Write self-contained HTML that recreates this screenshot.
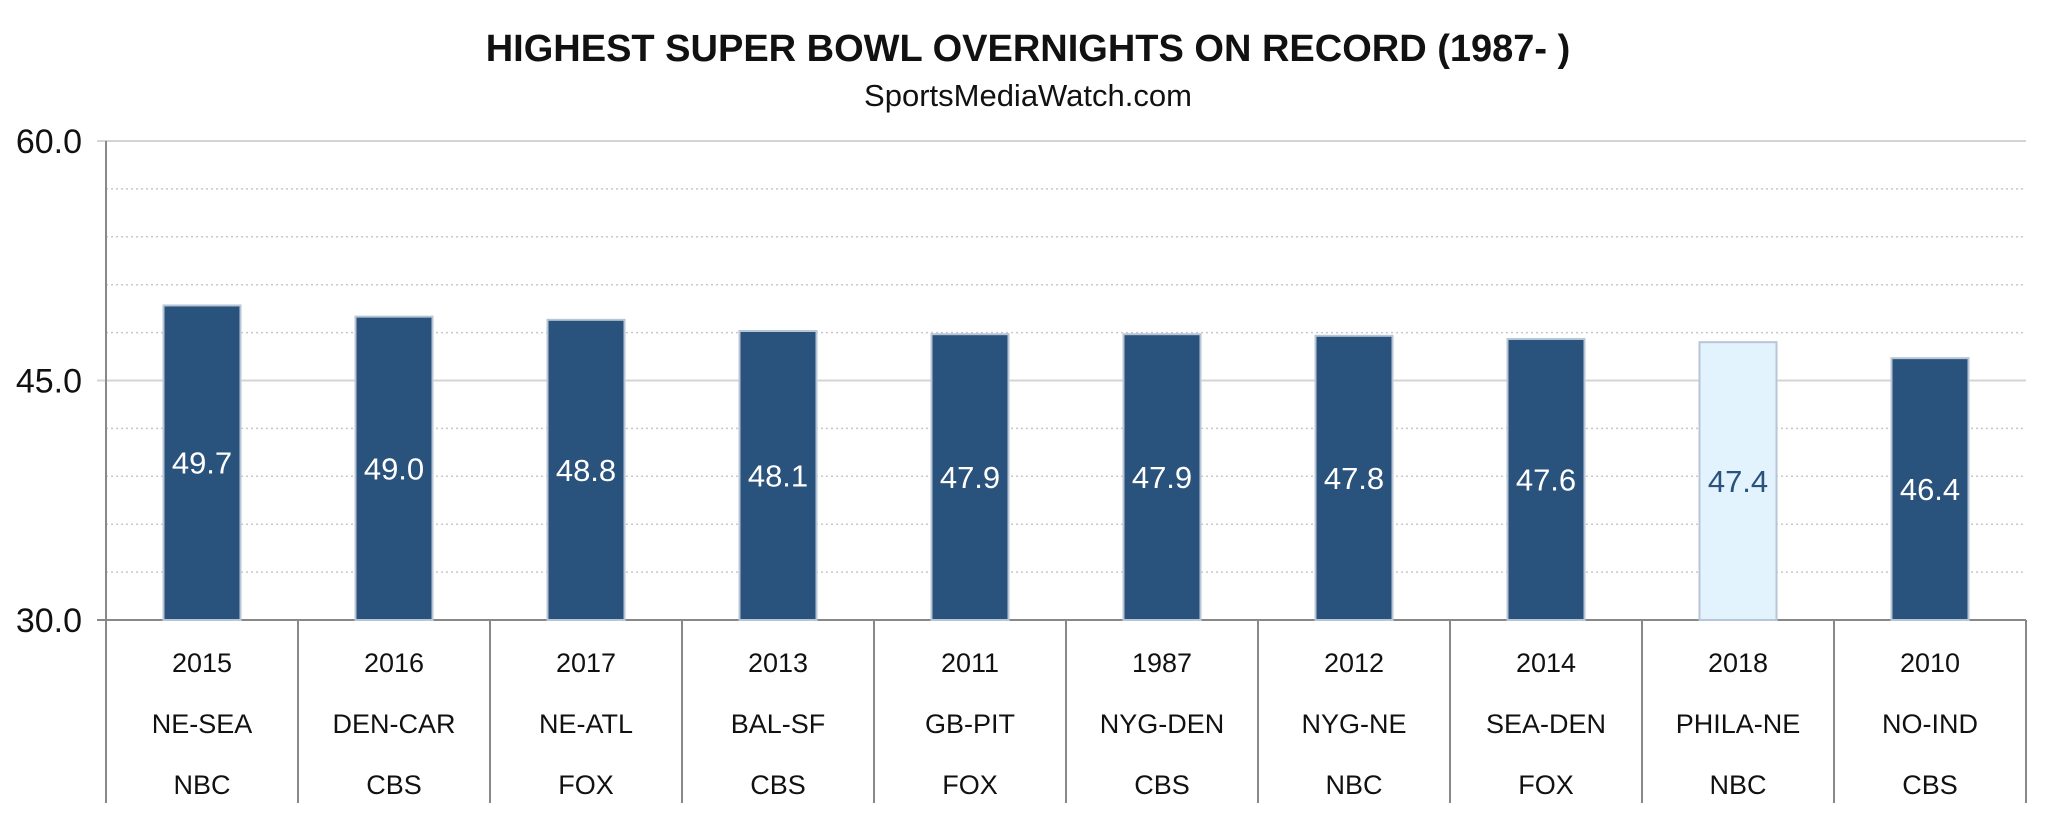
<!DOCTYPE html>
<html><head><meta charset="utf-8"><style>
body{margin:0;background:#fff;}
svg{display:block;font-family:"Liberation Sans",sans-serif;}
</style></head><body>
<svg id="chart" width="2048" height="814">
<text x="1028" y="61" text-anchor="middle" font-size="38" font-weight="bold" fill="#111">HIGHEST SUPER BOWL OVERNIGHTS ON RECORD (1987- )</text>
<text x="1028" y="106" text-anchor="middle" font-size="31" fill="#111">SportsMediaWatch.com</text>
<g id="grid"></g><g id="bars"></g><g id="axes"></g>
</svg>
<script>
const years=["2015","2016","2017","2013","2011","1987","2012","2014","2018","2010"];
const matchups=["NE-SEA","DEN-CAR","NE-ATL","BAL-SF","GB-PIT","NYG-DEN","NYG-NE","SEA-DEN","PHILA-NE","NO-IND"];
const networks=["NBC","CBS","FOX","CBS","FOX","CBS","NBC","FOX","NBC","CBS"];
const values=[49.7,49.0,48.8,48.1,47.9,47.9,47.8,47.6,47.4,46.4];
const highlight=[false,false,false,false,false,false,false,false,true,false];
const yTicks=[30,45,60];
const yMinor=[33,36,39,42,48,51,54,57];
const NS="http://www.w3.org/2000/svg";
const X0=106,X1=2026,Y0=620,Y1=141,yMin=30,yMax=60;
const bw=(X1-X0)/values.length;
function y(v){return Y0-(v-yMin)/(yMax-yMin)*(Y0-Y1);}
function xc(i){return X0+bw*(i+0.5);}
function mk(tag,attrs,parent){const e=document.createElementNS(NS,tag);for(const k in attrs)e.setAttribute(k,attrs[k]);parent.appendChild(e);return e;}
const grid=document.getElementById('grid'),bars=document.getElementById('bars'),axes=document.getElementById('axes');
yMinor.forEach(v=>{const l=mk('line',{x1:X0,x2:X1,y1:y(v),y2:y(v),stroke:'#c8c8c8','stroke-width':1.5,'stroke-dasharray':'2,3'},grid);

});
yTicks.forEach(v=>{const l=mk('line',{x1:X0-9,x2:X1,y1:y(v),y2:y(v),stroke:v==30?'#888':'#d4d4d4','stroke-width':2},grid);


const t=mk('text',{x:82,y:y(v)+12,'text-anchor':'end','font-size':34,fill:'#111'},axes);t.textContent=v.toFixed(1);

});
values.forEach((v,i)=>{const w=77,x=xc(i)-w/2,top=y(v);
const r=mk('rect',{x:x,y:top,width:w,height:Y0-top,fill:highlight[i]?'#e3f3fd':'#29527c',stroke:'#b7c6d6','stroke-width':2},bars);


const t=mk('text',{x:xc(i),y:(top+Y0)/2+11,'text-anchor':'middle','font-size':31,fill:highlight[i]?'#29527c':'#fff'},bars);t.textContent=v.toFixed(1);


[[years,662],[matchups,723],[networks,784]].forEach(([arr,yy])=>{const c=mk('text',{x:xc(i),y:yy+10,'text-anchor':'middle','font-size':27,fill:'#111'},axes);c.textContent=arr[i];

});});
for(let i=0;i<=values.length;i++){const x=X0+bw*i;const l=mk('line',{x1:x,x2:x,y1:i==0?Y1:Y0,y2:803,stroke:'#888','stroke-width':2},axes);

}
</script>
</body></html>
